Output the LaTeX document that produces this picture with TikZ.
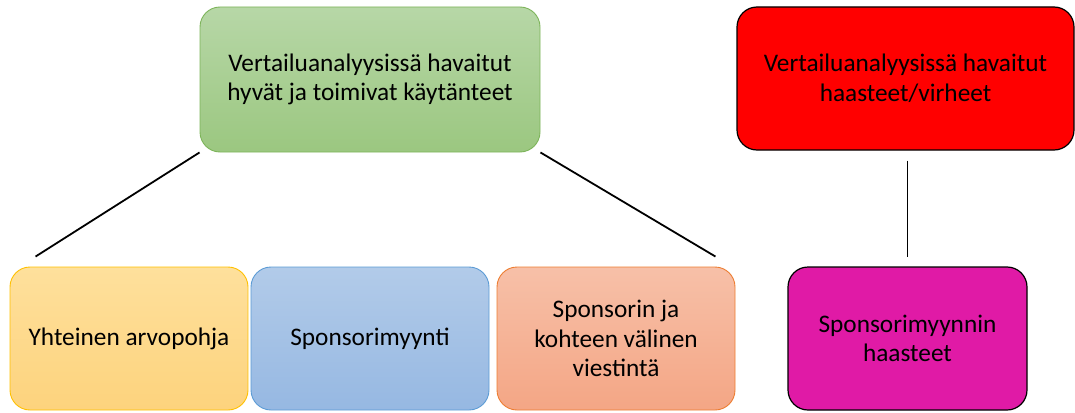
\documentclass[tikz,border=0pt]{standalone}
\usepackage{fontspec}
\setmainfont{Carlito}
\begin{document}
\begin{tikzpicture}[x=1pt,y=-1pt,
  box/.style={rounded corners=20pt, line width=0.9pt, align=center, inner sep=0pt,
    font=\fontsize{25.3}{29.5}\selectfont, text=black},
  conn/.style={line width=1.8pt, black}]
\useasboundingbox (0,0) rectangle (1075,412);
\definecolor{gtop}{RGB}{183,215,167}\definecolor{gbot}{RGB}{155,199,128}\definecolor{gbd}{RGB}{125,180,90}
\definecolor{ytop}{RGB}{254,224,156}\definecolor{ybot}{RGB}{253,211,125}\definecolor{ybd}{RGB}{255,192,0}
\definecolor{btop}{RGB}{178,203,233}\definecolor{bbot}{RGB}{150,184,226}\definecolor{bbd}{RGB}{91,155,213}
\definecolor{otop}{RGB}{247,192,168}\definecolor{obot}{RGB}{244,166,133}\definecolor{obd}{RGB}{237,125,49}
\definecolor{magfill}{RGB}{224,26,166}
\node[box, draw=gbd, top color=gtop, bottom color=gbot, minimum width=340pt, minimum height=145pt]
  (green) at (370,79.5) {Vertailuanalyysissä havaitut\\hyvät ja toimivat käytänteet};
\node[box, draw=black, fill=red, line width=1.2pt, minimum width=337pt, minimum height=143pt]
  (red) at (905.5,78.5) {Vertailuanalyysissä havaitut\\haasteet/virheet};
\node[box, draw=ybd, top color=ytop, bottom color=ybot, minimum width=238pt, minimum height=143pt]
  (yellow) at (129,338.5) {Yhteinen arvopohja};
\node[box, draw=bbd, top color=btop, bottom color=bbot, minimum width=238pt, minimum height=143pt]
  (blue) at (370,338.5) {Sponsorimyynti};
\node[box, draw=obd, top color=otop, bottom color=obot, minimum width=238pt, minimum height=143pt]
  (orange) at (616,338.5) {Sponsorin ja\\kohteen välinen\\viestintä};
\node[box, draw=black, fill=magfill, line width=1.2pt, minimum width=239pt, minimum height=143pt]
  (magenta) at (907.5,338.5) {Sponsorimyynnin\\haasteet};
\draw[conn] (green.south west) -- ([shift={(26,-10)}]yellow.north west);
\draw[conn] (green.south east) -- ([shift={(-20,-10)}]orange.north east);
\draw[conn] ([shift={(2,10)}]red.south) -- ([shift={(0,-9)}]magenta.north);
\end{tikzpicture}
\end{document}
